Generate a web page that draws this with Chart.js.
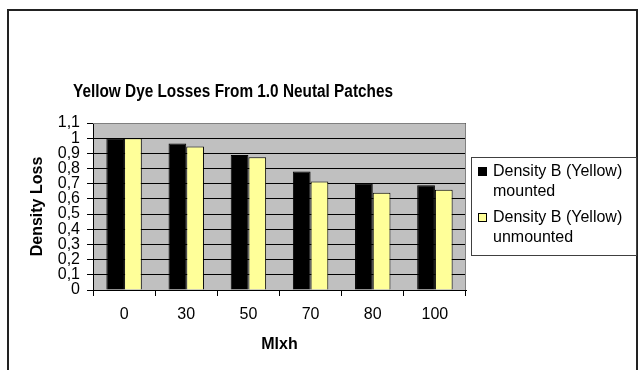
<!DOCTYPE html>
<html>
<head>
<meta charset="utf-8">
<script src="https://cdn.jsdelivr.net/npm/chart.js@4.4.1/dist/chart.umd.min.js"></script>
<style>
    html, body { margin: 0; padding: 0; background: #fff; }
    #wrap { position: relative; width: 638px; height: 370px; }
</style>
</head>
<body>
<div id="wrap"><canvas id="chart" width="638" height="370"></canvas></div>
<script>
const categories = ['0', '30', '50', '70', '80', '100'];
const mounted = [1.0, 0.965, 0.89, 0.78, 0.70, 0.69];
const unmounted = [1.0, 0.945, 0.875, 0.715, 0.64, 0.66];
const yTickValues = [0, 0.1, 0.2, 0.3, 0.4, 0.5, 0.6, 0.7, 0.8, 0.9, 1.0, 1.1];
const yTickLabels = ['0', '0,1', '0,2', '0,3', '0,4', '0,5', '0,6', '0,7', '0,8', '0,9', '1', '1,1'];
const seriesNames = ['Density B (Yellow) mounted', 'Density B (Yellow) unmounted'];
const legendLines = [['Density B (Yellow)', 'mounted'], ['Density B (Yellow)', 'unmounted']];
const chartTitle = 'Yellow Dye Losses From 1.0 Neutal Patches';

const FONT = '"Liberation Sans", Arial, sans-serif';

// frame, plot background, title, legend
const decor = {
    id: 'decor',
    beforeDraw(chart) {
        const ctx = chart.ctx;
        const a = chart.chartArea;
        ctx.save();
        ctx.fillStyle = '#fff';
        ctx.fillRect(0, 0, chart.width, chart.height);
        ctx.strokeStyle = '#222';
        ctx.lineWidth = 2;
        ctx.strokeRect(8, 10, 629, 420);
        ctx.fillStyle = '#C0C0C0';
        ctx.fillRect(a.left, a.top, a.right - a.left, a.bottom - a.top);
        ctx.restore();
    },
    afterDraw(chart) {
        const ctx = chart.ctx;
        const a = chart.chartArea;
        ctx.save();
        // plot border top / right
        ctx.strokeStyle = '#808080';
        ctx.lineWidth = 1;
        ctx.beginPath();
        ctx.moveTo(a.left, a.top + 0.5);
        ctx.lineTo(a.right - 0.5, a.top + 0.5);
        ctx.lineTo(a.right - 0.5, a.bottom);
        ctx.stroke();

        ctx.fillStyle = '#000';
        ctx.font = 'bold 18px ' + FONT;
        ctx.textAlign = 'center';
        ctx.textBaseline = 'middle';
        ctx.fillText(chartTitle, 233, 92, 320);

        // legend
        ctx.strokeStyle = '#404040';
        ctx.strokeRect(471.5, 157.5, 165, 98);
        ctx.font = '16px ' + FONT;
        ctx.textAlign = 'left';
        chart.data.datasets.forEach((ds, i) => {
            const y = 172 + i * 46;
            ctx.fillStyle = ds.backgroundColor;
            ctx.fillRect(478.5, y - 4.5, 8, 8);
            ctx.strokeStyle = '#000';
            ctx.strokeRect(478.5, y - 4.5, 8, 8);
            ctx.fillStyle = '#000';
            legendLines[i].forEach((t, j) => ctx.fillText(t, 493, y + j * 20));
        });
        ctx.restore();
    }
};

new Chart(document.getElementById('chart'), {
    type: 'bar',
    data: {
        labels: categories,
        datasets: [
            { label: seriesNames[0], data: mounted, backgroundColor: '#000000', borderColor: '#000000', borderWidth: 1 },
            { label: seriesNames[1], data: unmounted, backgroundColor: '#FFFF99', borderColor: '#000000', borderWidth: 1 },
        ],
    },
    options: {
        responsive: false,
        animation: false,
        events: [],
        categoryPercentage: 0.57,
        barPercentage: 1.0,
        layout: { padding: { left: 20, right: 172, top: 123, bottom: 10 } },
        plugins: { legend: { display: false }, title: { display: false }, tooltip: { enabled: false } },
        scales: {
            x: {
                afterFit(scale) { scale.height = 70; },
                grid: { offset: true, drawOnChartArea: false, color: '#000', tickLength: 6 },
                border: { color: '#000' },
                ticks: { color: '#000', font: { family: FONT, size: 16 }, padding: 9, maxRotation: 0 },
                title: { display: true, text: 'Mlxh', color: '#000', font: { family: FONT, size: 16, weight: 'bold' }, padding: { top: 0, bottom: 6 } },
            },
            y: {
                min: 0,
                max: 1.1,
                afterFit(scale) { scale.width = 73; },
                afterBuildTicks(scale) { scale.ticks = yTickValues.map(v => ({ value: v })); },
                grid: { color: '#000', tickLength: 6 },
                border: { color: '#000' },
                ticks: {
                    color: '#000',
                    font: { family: FONT, size: 16 },
                    padding: 7,
                    autoSkip: false,
                    callback: (v) => yTickLabels[Math.round(v * 10)],
                },
                title: { display: true, text: 'Density Loss', color: '#000', font: { family: FONT, size: 16, weight: 'bold' }, padding: { top: 8, bottom: 0 } },
            },
        },
    },
    plugins: [decor],
});
</script>
</body>
</html>
